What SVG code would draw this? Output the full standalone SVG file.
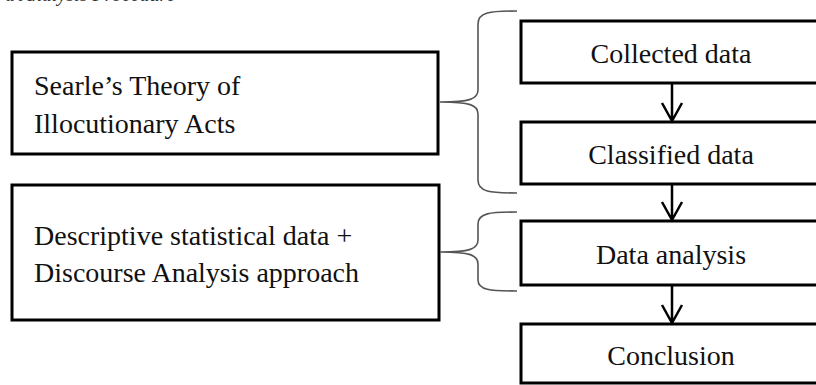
<svg xmlns="http://www.w3.org/2000/svg" width="816" height="385" viewBox="0 0 816 385">
<style>
.box{fill:#fff;stroke:#000;stroke-width:3}
.t{font-family:"Liberation Serif","Times New Roman",serif;font-size:28px;fill:#111}
.c{text-anchor:middle}
.brace{fill:none;stroke:#555;stroke-width:1.6}
.arr{fill:none;stroke:#000;stroke-width:2.5}
</style>
<rect width="816" height="385" fill="#fff"/>
<text x="5" y="0.5" font-family="'Liberation Serif',serif" font-style="italic" font-size="20" fill="#333">a Analysis Procedure</text>
<g id="searle">
<rect class="box" x="12" y="52" width="426" height="102"/>
<text class="t" x="34" y="95">Searle’s Theory of</text>
<text class="t" x="34" y="133">Illocutionary Acts</text>
</g>
<g id="descriptive">
<rect class="box" x="12" y="185" width="427" height="135"/>
<text class="t" x="34" y="245">Descriptive statistical data +</text>
<text class="t" x="34" y="282">Discourse Analysis approach</text>
</g>
<g id="collected">
<rect class="box" x="521" y="21" width="310" height="62"/>
<text class="t c" x="671" y="63">Collected data</text>
</g>
<g id="classified">
<rect class="box" x="521" y="122" width="310" height="62"/>
<text class="t c" x="671" y="164">Classified data</text>
</g>
<g id="analysis">
<rect class="box" x="521" y="221" width="310" height="64"/>
<text class="t c" x="671" y="264">Data analysis</text>
</g>
<g id="conclusion">
<rect class="box" x="521" y="324" width="310" height="59"/>
<text class="t c" x="671" y="365">Conclusion</text>
</g>
<g id="connectors">
<path class="brace" d="M517,11 C490,11 478,12 478,24 L478,90 C478,99 470,102 440,102 C470,102 478,105 478,114 L478,180 C478,192 490,193 517,193"/>
<path class="brace" d="M517,212 C490,212 478,213 478,224 L478,240 C478,249 470,252 440,252 C470,252 478,255 478,264 L478,280 C478,290 490,291 517,291"/>
<path class="arr" d="M672,84 L672,120 M662,103 L672,121 L682,103"/>
<path class="arr" d="M672,185 L672,219 M662,202 L672,220 L682,202"/>
<path class="arr" d="M672,286 L672,322 M662,305 L672,323 L682,305"/>
</g>
</svg>
